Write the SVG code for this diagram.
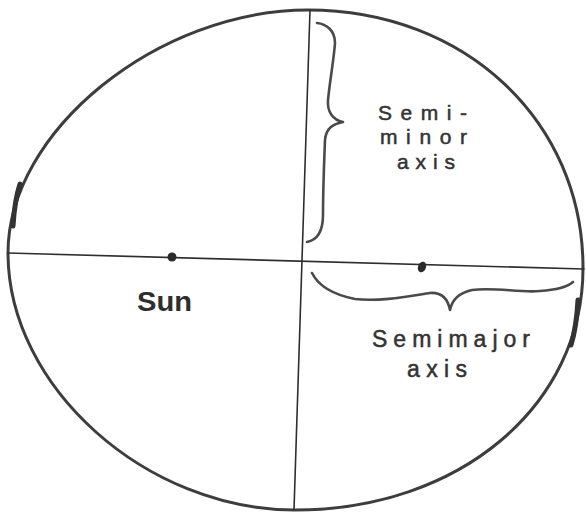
<svg xmlns="http://www.w3.org/2000/svg" width="586" height="514" viewBox="0 0 586 514">
<style>
.orbit{fill:none;stroke:#3d3d3d;stroke-width:3;stroke-linejoin:round}
.axis{fill:none;stroke:#2e2e2e;stroke-width:1.6;stroke-linecap:round}
.brace{fill:none;stroke:#4a4a4a;stroke-width:2.6;stroke-linecap:round;stroke-linejoin:round}
.dot{fill:#2a2a2a}
.lbl{font-family:"Liberation Sans","DejaVu Sans",sans-serif;fill:#333;stroke:#333;stroke-width:0.5;font-size:21px}
.lbl2{font-family:"Liberation Sans","DejaVu Sans",sans-serif;fill:#333;stroke:#333;stroke-width:0.5;font-size:23px}
.sun{font-family:"Liberation Sans","DejaVu Sans",sans-serif;fill:#2e2e2e;font-size:28px;font-weight:bold}
</style>
<rect width="586" height="514" fill="#fff"/>
<g id="orbit">
<path class="orbit" d="M308,10 C465,10 583,121 583,268 C583,406 459,510 295,510 C146,510 8,387 8,253 C8,131 158,10 308,10 Z"/>
<path fill="none" stroke="#333" stroke-width="5" stroke-linecap="round" d="M20,184 C16,196 14,210 13,226"/>
<path fill="none" stroke="#333" stroke-width="5" stroke-linecap="round" d="M578,300 C577,318 575,332 571,345"/>
</g>
<g id="axes">
<line class="axis" x1="8" y1="253" x2="584" y2="269"/>
<line class="axis" x1="310" y1="10" x2="294" y2="510"/>
</g>
<g id="sun">
<circle class="dot" cx="172" cy="257" r="4.5"/>
<text class="sun" x="137" y="311" textLength="55" lengthAdjust="spacingAndGlyphs">Sun</text>
</g>
<g id="focus2">
<ellipse class="dot" cx="422" cy="267" rx="4" ry="5.5" transform="rotate(20 422 267)"/>
</g>
<g id="semi-minor">
<path class="brace" d="M317,23 C326,24 335,30 335,43 C334,58 330,80 328,100 C327,112 333,120 343,122 C333,124 326,128 325,140 C324,165 323,195 323,215 C323,232 317,240 307,242"/>
<text class="lbl" x="378" y="120" textLength="89" lengthAdjust="spacing">Semi-</text>
<text class="lbl" x="380" y="144" textLength="87" lengthAdjust="spacing">minor</text>
<text class="lbl" x="397" y="169" textLength="58" lengthAdjust="spacing">axis</text>
</g>
<g id="semi-major">
<path class="brace" d="M312,273 C318,285 330,294 355,299 C380,302 410,296 430,293 C443,292 448,300 450,310 C452,300 458,293 472,290 C495,287 520,293 540,291 C555,290 566,288 573,282"/>
<text class="lbl2" x="372" y="347" textLength="158" lengthAdjust="spacing">Semimajor</text>
<text class="lbl2" x="407" y="377" textLength="60" lengthAdjust="spacing">axis</text>
</g>
</svg>
